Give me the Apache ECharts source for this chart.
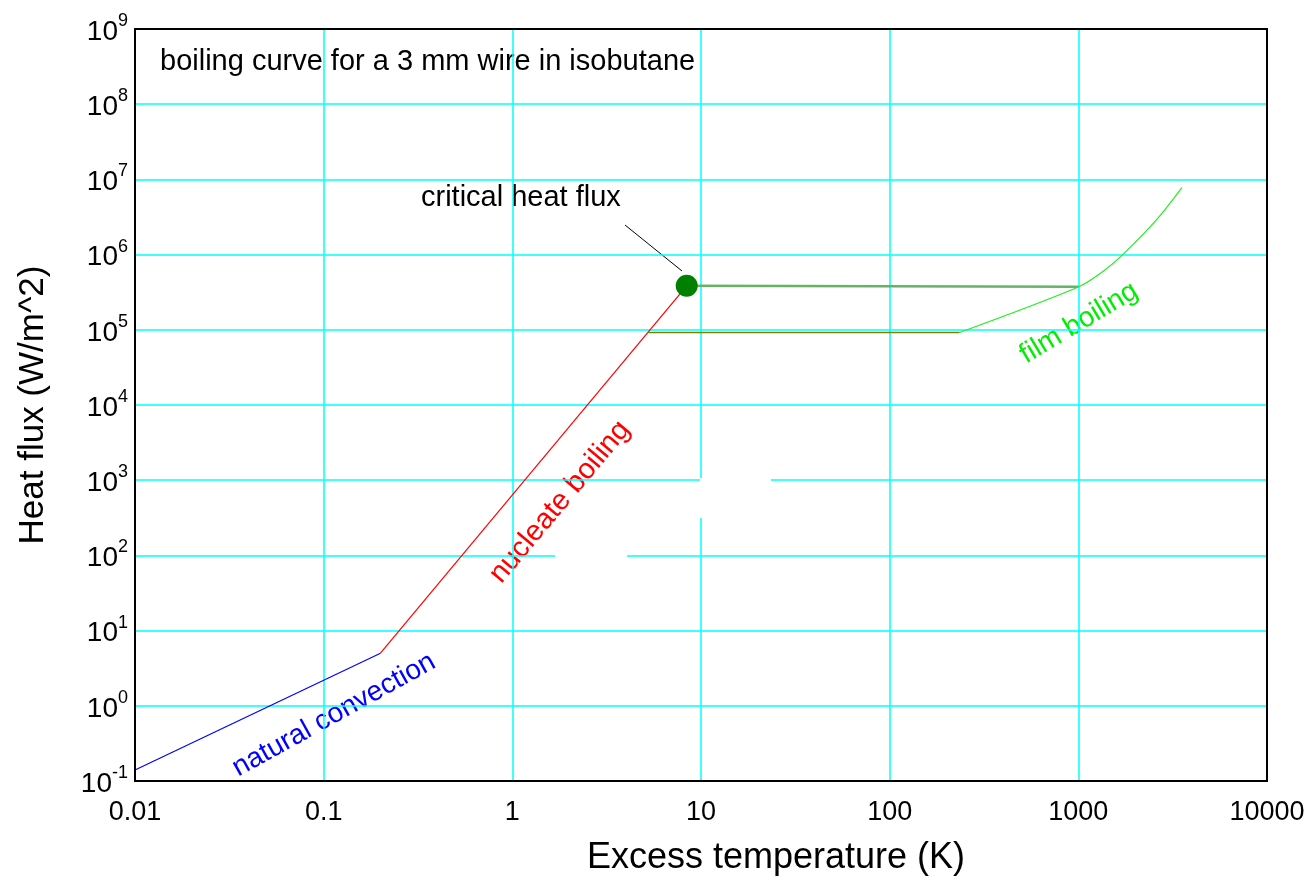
<!DOCTYPE html>
<html>
<head>
<meta charset="utf-8">
<script src="https://cdn.jsdelivr.net/npm/echarts@6/dist/echarts.min.js"></script>
<style>
  html, body { margin: 0; padding: 0; background: #fff; }
  #chart { width: 1315px; height: 882px; }
</style>
</head>
<body>
<div id="chart"></div>
<script>
// boiling curve pieces, [excess temperature K, heat flux W/m^2]
const naturalConvection = [[0.01, 0.14], [0.2, 5]];
const nucleateBoiling = [[0.2, 5], [8.4, 3.85e5]];
const chfPlateau = [[8.4, 3.85e5], [1000, 3.75e5]];
const minFluxLine = [[5.2, 9.2e4], [235, 9.2e4]];
const filmBoiling = [[235, 9.2e4], [1000, 3.7e5], [1350, 5.95e5], [1720, 1.0e6], [2600, 2.92e6], [3540, 7.8e6]];
const criticalPoint = [[8.4, 3.85e5]];

const FONT = "Arial, 'Liberation Sans', sans-serif";

const chart = echarts.init(document.getElementById("chart"));

const supLabel = (v) => {
    const e = Math.round(Math.log10(v));
    return "{b|10}{s|" + e + "}";
};

const option = {
    backgroundColor: "#fff",
    animation: false,
    grid: { left: 135, right: 48, top: 29, bottom: 101 },
    xAxis: {
        type: "log",
        logBase: 10,
        min: 0.01,
        max: 10000,
        axisLine: { show: true, lineStyle: { color: "#000", width: 2 } },
        axisTick: { show: false },
        axisLabel: {
            color: "#000",
            fontFamily: FONT,
            fontSize: 27,
            margin: 18,
            formatter: (v) => String(+v.toPrecision(6)),
        },
        splitLine: { show: true, lineStyle: { color: "#00ffff", width: 1.5 } },
    },
    yAxis: {
        type: "log",
        logBase: 10,
        min: 0.1,
        max: 1e9,
        name: "Heat flux (W/m^2)",
        nameLocation: "middle",
        nameGap: 84,
        nameTextStyle: { fontFamily: FONT, fontSize: 35, color: "#000" },
        axisLine: { show: true, lineStyle: { color: "#000", width: 2 } },
        axisTick: { show: false },
        axisLabel: {
            color: "#000",
            margin: 7,
            formatter: supLabel,
            rich: {
                b: { fontFamily: FONT, fontSize: 28, color: "#000", verticalAlign: "bottom" },
                s: { fontFamily: FONT, fontSize: 18, color: "#000", verticalAlign: "top", padding: [0, 0, 16, 0] },
            },
        },
        splitLine: { show: true, lineStyle: { color: "#00ffff", width: 1.5 } },
    },
    series: [
        {
            name: "natural convection",
            type: "line",
            data: naturalConvection,
            symbol: "none",
            lineStyle: { color: "#0000ff", width: 1.2 },
        },
        {
            name: "nucleate boiling",
            type: "line",
            data: nucleateBoiling,
            symbol: "none",
            lineStyle: { color: "#ff0000", width: 1.2 },
        },
        {
            name: "chf plateau",
            type: "line",
            data: chfPlateau,
            symbol: "none",
            lineStyle: { color: "#66b366", width: 2.5 },
        },
        {
            name: "minimum flux",
            type: "line",
            data: minFluxLine,
            symbol: "none",
            lineStyle: { color: "#808000", width: 1.5 },
        },
        {
            name: "film boiling",
            type: "line",
            data: filmBoiling,
            symbol: "none",
            smooth: 0.3,
            lineStyle: { color: "#22ee22", width: 1.2 },
        },
        {
            name: "critical heat flux",
            type: "scatter",
            data: criticalPoint,
            symbolSize: 22,
            itemStyle: { color: "#008000", opacity: 1 },
            z: 5,
        },
    ],
    graphic: [
        {
            type: "rect",
            shape: { x: 135, y: 29, width: 1132, height: 752 },
            style: { fill: "none", stroke: "#000", lineWidth: 2 },
            z: 10,
        },
        // blank patches over the grid, as in the source figure
        {
            type: "rect",
            shape: { x: 700, y: 478, width: 71, height: 40 },
            style: { fill: "#fff" },
            z: 1,
        },
        {
            type: "rect",
            shape: { x: 555, y: 552, width: 72, height: 7 },
            style: { fill: "#fff" },
            z: 1,
        },
        {
            type: "text",
            x: 160, y: 62,
            style: { text: "boiling curve for a 3 mm wire in isobutane", font: "29px " + FONT, fill: "#000", verticalAlign: "middle" },
        },
        {
            type: "text",
            x: 421, y: 198,
            style: { text: "critical heat flux", font: "29px " + FONT, fill: "#000", verticalAlign: "middle" },
        },
        {
            type: "line",
            shape: { x1: 625, y1: 225, x2: 682, y2: 271 },
            style: { stroke: "#000", lineWidth: 1 },
        },
        {
            type: "text",
            x: 334, y: 715,
            rotation: 29 * Math.PI / 180,
            style: { text: "natural convection", font: "28px " + FONT, fill: "#0000ff", align: "center", verticalAlign: "middle" },
        },
        {
            type: "text",
            x: 560, y: 502,
            rotation: 50 * Math.PI / 180,
            style: { text: "nucleate boiling", font: "29px " + FONT, fill: "#ff0000", align: "center", verticalAlign: "middle" },
        },
        {
            type: "text",
            x: 1079, y: 323,
            rotation: 31 * Math.PI / 180,
            style: { text: "film boiling", font: "28px " + FONT, fill: "#00ee00", align: "center", verticalAlign: "middle" },
        },
        {
            type: "text",
            x: 776, y: 858,
            style: { text: "Excess temperature (K)", font: "36px " + FONT, fill: "#000", align: "center", verticalAlign: "middle" },
        },
    ],
};

chart.setOption(option);
</script>
</body>
</html>
